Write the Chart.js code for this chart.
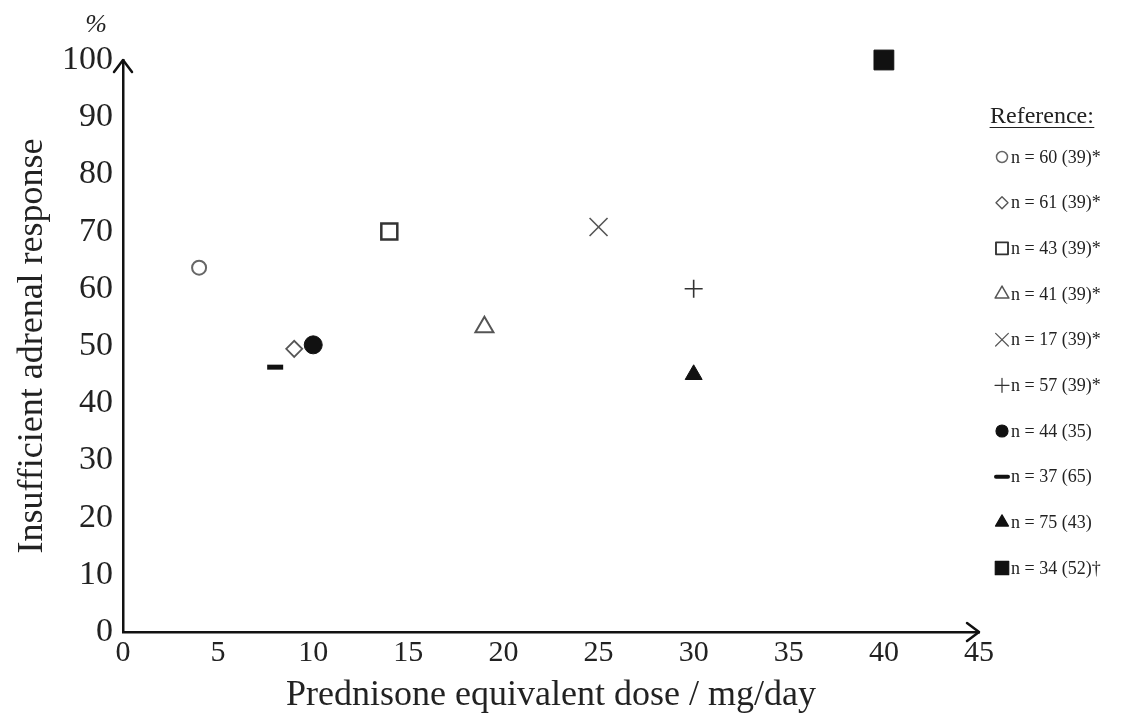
<!DOCTYPE html>
<html><head><meta charset="utf-8">
<script src="https://cdn.jsdelivr.net/npm/chart.js@4.4.0/dist/chart.umd.min.js"></script>
<style>html,body{margin:0;padding:0;background:#fff;}#wrap{position:relative;width:1131px;height:720px;}canvas{display:block;}</style>
</head><body><div id="wrap"><canvas id="c" width="1131" height="720" style="width:1131px;height:720px;"></canvas></div>
<script>
// ---- data ----
const doses = [4, 9, 14, 19, 25, 30, 10, 8, 30, 40];
const responses = [63.7, 49.5, 70, 53.3, 70.8, 60, 50.2, 46.3, 45.0, 100];
const referenceLabels = ['n = 60 (39)*', 'n = 61 (39)*', 'n = 43 (39)*', 'n = 41 (39)*', 'n = 17 (39)*', 'n = 57 (39)*', 'n = 44 (35)', 'n = 37 (65)', 'n = 75 (43)', 'n = 34 (52)\u2020'];
const xTickValues = [0, 5, 10, 15, 20, 25, 30, 35, 40, 45];
const yTickValues = [0, 10, 20, 30, 40, 50, 60, 70, 80, 90, 100];
const xTitle = 'Prednisone equivalent dose / mg/day';
const yTitle = 'Insufficient adrenal response';
const legendTitle = 'Reference:';

// ---- styles ----
const markerStyles = [
  {pointStyle:'circle',   radius:7,    fill:'#ffffff', stroke:'#666666', bw:2,   lr:5.5},
  {pointStyle:'rectRot',  radius:8,    fill:'#ffffff', stroke:'#555555', bw:1.8, lr:6},
  {pointStyle:'rect',     radius:11.3, fill:'#ffffff', stroke:'#333333', bw:2.5, lr:8.5},
  {pointStyle:'triangle', radius:10.4, fill:'#ffffff', stroke:'#555555', bw:2,   lr:8},
  {pointStyle:'crossRot', radius:12.7, fill:'#ffffff', stroke:'#555555', bw:1.6, lr:9},
  {pointStyle:'cross',    radius:9,    fill:'#ffffff', stroke:'#333333', bw:1.6, lr:7},
  {pointStyle:'circle',   radius:9,    fill:'#111111', stroke:'#111111', bw:1,   lr:6},
  {pointStyle:'line',     radius:8,    fill:'#111111', stroke:'#111111', bw:5,   lr:6},
  {pointStyle:'triangle', radius:9.8,  fill:'#111111', stroke:'#111111', bw:1,   lr:7.5},
  {pointStyle:'rect',     radius:14,   fill:'#111111', stroke:'#111111', bw:1,   lr:9.5}
];
const SERIF = '"Liberation Serif", "DejaVu Serif", serif';

const datasets = doses.map((d, i) => ({
  label: referenceLabels[i],
  data: [{x: d, y: responses[i]}],
  pointStyle: markerStyles[i].pointStyle,
  pointRadius: markerStyles[i].radius,
  pointHoverRadius: markerStyles[i].radius,
  pointBackgroundColor: markerStyles[i].fill,
  pointBorderColor: markerStyles[i].stroke,
  pointBorderWidth: markerStyles[i].bw,
  showLine: false,
  clip: false
}));

const LAYOUT = {left: 123, right: 979, top: 60, bottom: 632};

const decorPlugin = {
  id: 'decor',
  afterDraw(chart) {
    const ctx = chart.ctx;
    const xs = chart.scales.x, ys = chart.scales.y;
    const x0 = xs.left, yb = ys.bottom, yt = ys.top, xr = xs.right;
    ctx.save();
    ctx.strokeStyle = '#111'; ctx.lineWidth = 2.5; ctx.lineCap = 'round'; ctx.lineJoin = 'round';
    ctx.beginPath();
    ctx.moveTo(x0 - 9, yt + 12); ctx.lineTo(x0, yt); ctx.lineTo(x0 + 9, yt + 12);
    ctx.stroke();
    ctx.beginPath();
    ctx.moveTo(xr - 12, yb - 9); ctx.lineTo(xr, yb); ctx.lineTo(xr - 12, yb + 9);
    ctx.stroke();
    ctx.fillStyle = '#222';
    ctx.font = 'italic 26px ' + SERIF;
    ctx.textAlign = 'center'; ctx.textBaseline = 'middle';
    ctx.fillText('%', 96, 25);
    const lx = 990;
    ctx.font = '24px ' + SERIF;
    ctx.textAlign = 'left'; ctx.textBaseline = 'alphabetic';
    ctx.fillText(legendTitle, lx, 123);
    const tw = ctx.measureText(legendTitle).width;
    ctx.lineWidth = 1; ctx.strokeStyle = '#222';
    ctx.beginPath(); ctx.moveTo(lx, 127.5); ctx.lineTo(lx + tw, 127.5); ctx.stroke();
    const y0 = 157, step = (568 - 157) / 9;
    ctx.font = '18px ' + SERIF;
    ctx.textBaseline = 'middle';
    chart.data.datasets.forEach((ds, i) => {
      const y = y0 + i * step;
      const ms = markerStyles[i];
      ctx.fillStyle = ms.fill; ctx.strokeStyle = ms.stroke;
      ctx.lineWidth = ms.pointStyle === 'line' ? 4 : Math.max(1.2, ms.bw * 0.75);
      Chart.helpers.drawPoint(ctx, {pointStyle: ms.pointStyle, radius: ms.lr, rotation: 0, borderWidth: ctx.lineWidth}, 1002, y);
      ctx.fillStyle = '#222';
      ctx.fillText(ds.label, 1011, y + 1);
    });
    ctx.restore();
  }
};

new Chart(document.getElementById('c'), {
  type: 'scatter',
  data: {datasets},
  options: {
    responsive: false,
    maintainAspectRatio: false,
    animation: false,
    devicePixelRatio: 1,
    layout: {padding: {left: 0, right: 1131 - LAYOUT.right, top: LAYOUT.top, bottom: 0}},
    plugins: {legend: {display: false}, tooltip: {enabled: false}},
    scales: {
      x: {
        type: 'linear', min: 0, max: 45,
        afterBuildTicks: s => { s.ticks = xTickValues.map(v => ({value: v})); },
        afterFit: s => { s.height = 720 - LAYOUT.bottom; },
        grid: {display: false, drawTicks: false},
        border: {display: true, color: '#111', width: 2.5},
        ticks: {color: '#222', font: {family: SERIF, size: 30}, padding: 3, maxRotation: 0, autoSkip: false},
        title: {display: true, text: xTitle, color: '#222', font: {family: SERIF, size: 36}, padding: {top: 0, bottom: 3}}
      },
      y: {
        type: 'linear', min: 0, max: 100,
        afterBuildTicks: s => { s.ticks = yTickValues.map(v => ({value: v})); },
        afterFit: s => { s.width = LAYOUT.left; },
        grid: {display: false, drawTicks: false},
        border: {display: true, color: '#111', width: 2.5},
        ticks: {color: '#222', font: {family: SERIF, size: 34}, padding: 10, autoSkip: false},
        title: {display: true, text: yTitle, color: '#222', font: {family: SERIF, size: 36}, padding: {top: 11, bottom: 0}}
      }
    }
  },
  plugins: [decorPlugin]
});
</script></body></html>
